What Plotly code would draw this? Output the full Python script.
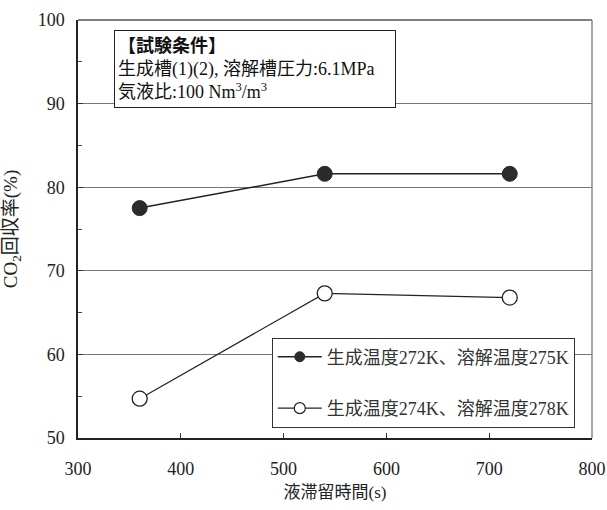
import plotly.graph_objects as go

x_time = [360, 540, 720]
y_272 = [77.5, 81.6, 81.6]
y_274 = [54.7, 67.3, 66.8]
names = ["生成温度272K、溶解温度275K", "生成温度274K、溶解温度278K"]
x_ticks = [300, 400, 500, 600, 700, 800]
y_ticks = [50, 60, 70, 80, 90, 100]

FONT = "Liberation Serif, Noto Sans CJK JP"
LINE = "#222222"

fig = go.Figure()
fig.add_trace(go.Scatter(
    x=x_time, y=y_272, mode="lines+markers", name=names[0], showlegend=False,
    line=dict(color=LINE, width=1.5),
    marker=dict(symbol="circle", size=15, color="#2b2b2b", line=dict(color="#2b2b2b", width=1)),
))
fig.add_trace(go.Scatter(
    x=x_time, y=y_274, mode="lines+markers", name=names[1], showlegend=False,
    line=dict(color=LINE, width=1.2),
    marker=dict(symbol="circle", size=15, color="white", line=dict(color=LINE, width=1.3)),
))
# legend entries (smaller markers, as in the reference legend)
fig.add_trace(go.Scatter(
    x=[None], y=[None], mode="lines+markers", name=names[0], legendgroup="a",
    line=dict(color=LINE, width=1.3),
    marker=dict(symbol="circle", size=10, color="#2b2b2b", line=dict(color="#2b2b2b", width=1)),
))
fig.add_trace(go.Scatter(
    x=[None], y=[None], mode="lines+markers", name=names[1], legendgroup="b",
    line=dict(color=LINE, width=1.3),
    marker=dict(symbol="circle", size=11, color="white", line=dict(color=LINE, width=1.2)),
))

fig.update_layout(
    width=607, height=510,
    margin=dict(l=78, r=15, t=20, b=72),
    plot_bgcolor="white", paper_bgcolor="white",
    font=dict(family=FONT, size=17, color="#222222"),
    showlegend=True,
    legend=dict(
        x=0.377, y=0.025, xanchor="left", yanchor="bottom",
        bordercolor="#333333", borderwidth=1, bgcolor="white",
        font=dict(family=FONT, size=18, color="#333333"),
        tracegroupgap=25, traceorder="grouped",
        itemwidth=44,
    ),
    xaxis=dict(
        range=[300, 800], tickvals=x_ticks, ticks="inside", ticklen=5,
        tickcolor="#333333", showline=True, linecolor="#222222", linewidth=1.5,
        showgrid=False, zeroline=False, automargin=False,
        ticklabelstandoff=14,
        title=dict(text="液滞留時間(s)", standoff=8, font=dict(size=17)),
        tickfont=dict(size=18),
    ),
    yaxis=dict(
        range=[50, 100], tickvals=y_ticks, ticks="inside", ticklen=5,
        tickcolor="#333333", showline=True, linecolor="#222222", linewidth=1.5,
        showgrid=True, gridcolor="#777777", gridwidth=1.3, zeroline=False,
        automargin=False, ticklabelstandoff=8,
        minor=dict(dtick=5, ticks="inside", ticklen=4, tickcolor="#444444", showgrid=False),
        title=dict(text="CO<sub>2</sub>回収率(%)", standoff=17, font=dict(size=19)),
        tickfont=dict(size=18),
    ),
)

# top and right frame lines (gray)
fig.add_shape(type="line", xref="paper", yref="paper", x0=0, x1=1, y0=1, y1=1,
              line=dict(color="#555555", width=1.5))
fig.add_shape(type="line", xref="paper", yref="paper", x0=1, x1=1, y0=0, y1=1,
              line=dict(color="#888888", width=1.5))

fig.add_annotation(
    xref="paper", yref="paper", x=0.070, y=0.976, xanchor="left", yanchor="top",
    text="<b>【試験条件】</b><br>生成槽(1)(2), 溶解槽圧力:6.1MPa<br>気液比:100 Nm<sup>3</sup>/m<sup>3</sup>",
    align="left", valign="middle", showarrow=False, width=274, height=70,
    font=dict(family=FONT, size=18, color="#111111"),
    bordercolor="#222222", borderwidth=1, borderpad=3, bgcolor="white",
)

fig.write_html(
    "out.html",
    config={"displayModeBar": False},
    post_script="document.body.style.margin='0';document.body.style.overflow='hidden';",
)
